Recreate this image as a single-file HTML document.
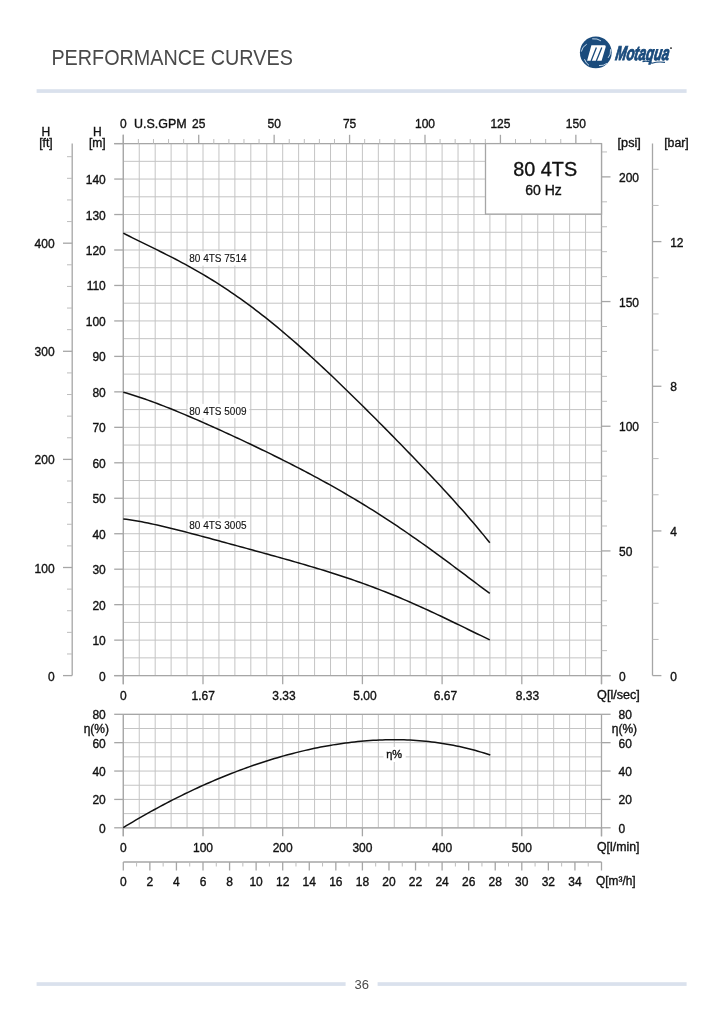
<!DOCTYPE html>
<html><head><meta charset="utf-8"><title>Performance Curves</title>
<style>
html,body{margin:0;padding:0;background:#fff;}
body{width:724px;height:1024px;overflow:hidden;}
svg{display:block;font-family:'Liberation Sans', Arial, Helvetica, sans-serif;}
.t{stroke:#111;stroke-width:0.35px;}
.lt{stroke:#111;stroke-width:0.12px;}
</style></head>
<body>
<svg width="724" height="1024" viewBox="0 0 724 1024">
<rect width="724" height="1024" fill="#fff"/>

<rect x="36.6" y="89.2" width="650" height="3.7" fill="#dae1ed"/>
<text x="51.4" y="64.8" font-size="22.5" fill="#4a4a4a" textLength="241.5" lengthAdjust="spacingAndGlyphs">PERFORMANCE CURVES</text>
<rect x="36.6" y="982.2" width="309" height="3.7" fill="#dae1ed"/>
<rect x="377.6" y="982.2" width="309" height="3.7" fill="#dae1ed"/>
<text x="361.7" y="988.5" font-size="13" fill="#4a4a4a" text-anchor="middle">36</text>


<g>
  <circle cx="595.8" cy="52.4" r="15.9" fill="#1a4b7c"/>
  <g fill="none" stroke="#d6e6f5" stroke-width="0.9" stroke-linecap="round">
    <path d="M581.4,51.2 Q582.2,46.6 586.4,44.4"/>
    <path d="M592.6,38.8 Q597.4,38.2 600.6,40.6"/>
    <path d="M610.6,49.6 Q611.0,54.8 608.4,57.6"/>
    <path d="M599.4,65.6 Q603.6,66.0 606.6,63.6"/>
    <path d="M584.6,59.6 Q585.8,63.2 588.6,65.0"/>
  </g>
  <path d="M591.4,45.2 L604.6,45.2 Q606.2,45.4 605.7,47 L601.6,60.8 L587.1,60.8 Z" fill="#fff"/>
  <path d="M596.4,47.4 L591.1,60.9 M601.8,47.4 L596.3,60.9" stroke="#1a4b7c" stroke-width="1.3" fill="none"/>
  <text x="614.8" y="60.1" font-size="20" font-weight="bold" font-style="italic" fill="#1a4b7c" stroke="#1a4b7c" stroke-width="1.0" textLength="53.6" lengthAdjust="spacingAndGlyphs" transform="translate(0 60.1) skewX(-9) translate(0 -60.1)">Motaqua</text>
  <path d="M642.5,61.6 Q648,60.2 652,63.2 Q658,61.4 665,62.4" fill="none" stroke="#1a4b7c" stroke-width="1.1"/>
  <circle cx="671" cy="48.1" r="0.9" fill="#111"/>
</g>

<line x1="123.30" y1="143.60" x2="123.30" y2="675.60" stroke="#c4c4c4" stroke-width="1.0"/>
<line x1="139.24" y1="143.60" x2="139.24" y2="675.60" stroke="#c4c4c4" stroke-width="1.0"/>
<line x1="155.18" y1="143.60" x2="155.18" y2="675.60" stroke="#c4c4c4" stroke-width="1.0"/>
<line x1="171.12" y1="143.60" x2="171.12" y2="675.60" stroke="#c4c4c4" stroke-width="1.0"/>
<line x1="187.06" y1="143.60" x2="187.06" y2="675.60" stroke="#c4c4c4" stroke-width="1.0"/>
<line x1="203.00" y1="143.60" x2="203.00" y2="675.60" stroke="#c4c4c4" stroke-width="1.0"/>
<line x1="218.94" y1="143.60" x2="218.94" y2="675.60" stroke="#c4c4c4" stroke-width="1.0"/>
<line x1="234.88" y1="143.60" x2="234.88" y2="675.60" stroke="#c4c4c4" stroke-width="1.0"/>
<line x1="250.82" y1="143.60" x2="250.82" y2="675.60" stroke="#c4c4c4" stroke-width="1.0"/>
<line x1="266.76" y1="143.60" x2="266.76" y2="675.60" stroke="#c4c4c4" stroke-width="1.0"/>
<line x1="282.70" y1="143.60" x2="282.70" y2="675.60" stroke="#c4c4c4" stroke-width="1.0"/>
<line x1="298.64" y1="143.60" x2="298.64" y2="675.60" stroke="#c4c4c4" stroke-width="1.0"/>
<line x1="314.58" y1="143.60" x2="314.58" y2="675.60" stroke="#c4c4c4" stroke-width="1.0"/>
<line x1="330.52" y1="143.60" x2="330.52" y2="675.60" stroke="#c4c4c4" stroke-width="1.0"/>
<line x1="346.46" y1="143.60" x2="346.46" y2="675.60" stroke="#c4c4c4" stroke-width="1.0"/>
<line x1="362.40" y1="143.60" x2="362.40" y2="675.60" stroke="#c4c4c4" stroke-width="1.0"/>
<line x1="378.34" y1="143.60" x2="378.34" y2="675.60" stroke="#c4c4c4" stroke-width="1.0"/>
<line x1="394.28" y1="143.60" x2="394.28" y2="675.60" stroke="#c4c4c4" stroke-width="1.0"/>
<line x1="410.22" y1="143.60" x2="410.22" y2="675.60" stroke="#c4c4c4" stroke-width="1.0"/>
<line x1="426.16" y1="143.60" x2="426.16" y2="675.60" stroke="#c4c4c4" stroke-width="1.0"/>
<line x1="442.10" y1="143.60" x2="442.10" y2="675.60" stroke="#c4c4c4" stroke-width="1.0"/>
<line x1="458.04" y1="143.60" x2="458.04" y2="675.60" stroke="#c4c4c4" stroke-width="1.0"/>
<line x1="473.98" y1="143.60" x2="473.98" y2="675.60" stroke="#c4c4c4" stroke-width="1.0"/>
<line x1="489.92" y1="143.60" x2="489.92" y2="675.60" stroke="#c4c4c4" stroke-width="1.0"/>
<line x1="505.86" y1="143.60" x2="505.86" y2="675.60" stroke="#c4c4c4" stroke-width="1.0"/>
<line x1="521.80" y1="143.60" x2="521.80" y2="675.60" stroke="#c4c4c4" stroke-width="1.0"/>
<line x1="537.74" y1="143.60" x2="537.74" y2="675.60" stroke="#c4c4c4" stroke-width="1.0"/>
<line x1="553.68" y1="143.60" x2="553.68" y2="675.60" stroke="#c4c4c4" stroke-width="1.0"/>
<line x1="569.62" y1="143.60" x2="569.62" y2="675.60" stroke="#c4c4c4" stroke-width="1.0"/>
<line x1="585.56" y1="143.60" x2="585.56" y2="675.60" stroke="#c4c4c4" stroke-width="1.0"/>
<line x1="601.50" y1="143.60" x2="601.50" y2="675.60" stroke="#c4c4c4" stroke-width="1.0"/>
<line x1="123.30" y1="675.60" x2="601.50" y2="675.60" stroke="#c4c4c4" stroke-width="1.0"/>
<line x1="123.30" y1="657.87" x2="601.50" y2="657.87" stroke="#c4c4c4" stroke-width="1.0"/>
<line x1="123.30" y1="640.13" x2="601.50" y2="640.13" stroke="#c4c4c4" stroke-width="1.0"/>
<line x1="123.30" y1="622.40" x2="601.50" y2="622.40" stroke="#c4c4c4" stroke-width="1.0"/>
<line x1="123.30" y1="604.67" x2="601.50" y2="604.67" stroke="#c4c4c4" stroke-width="1.0"/>
<line x1="123.30" y1="586.93" x2="601.50" y2="586.93" stroke="#c4c4c4" stroke-width="1.0"/>
<line x1="123.30" y1="569.20" x2="601.50" y2="569.20" stroke="#c4c4c4" stroke-width="1.0"/>
<line x1="123.30" y1="551.47" x2="601.50" y2="551.47" stroke="#c4c4c4" stroke-width="1.0"/>
<line x1="123.30" y1="533.73" x2="601.50" y2="533.73" stroke="#c4c4c4" stroke-width="1.0"/>
<line x1="123.30" y1="516.00" x2="601.50" y2="516.00" stroke="#c4c4c4" stroke-width="1.0"/>
<line x1="123.30" y1="498.26" x2="601.50" y2="498.26" stroke="#c4c4c4" stroke-width="1.0"/>
<line x1="123.30" y1="480.53" x2="601.50" y2="480.53" stroke="#c4c4c4" stroke-width="1.0"/>
<line x1="123.30" y1="462.80" x2="601.50" y2="462.80" stroke="#c4c4c4" stroke-width="1.0"/>
<line x1="123.30" y1="445.06" x2="601.50" y2="445.06" stroke="#c4c4c4" stroke-width="1.0"/>
<line x1="123.30" y1="427.33" x2="601.50" y2="427.33" stroke="#c4c4c4" stroke-width="1.0"/>
<line x1="123.30" y1="409.60" x2="601.50" y2="409.60" stroke="#c4c4c4" stroke-width="1.0"/>
<line x1="123.30" y1="391.86" x2="601.50" y2="391.86" stroke="#c4c4c4" stroke-width="1.0"/>
<line x1="123.30" y1="374.13" x2="601.50" y2="374.13" stroke="#c4c4c4" stroke-width="1.0"/>
<line x1="123.30" y1="356.40" x2="601.50" y2="356.40" stroke="#c4c4c4" stroke-width="1.0"/>
<line x1="123.30" y1="338.66" x2="601.50" y2="338.66" stroke="#c4c4c4" stroke-width="1.0"/>
<line x1="123.30" y1="320.93" x2="601.50" y2="320.93" stroke="#c4c4c4" stroke-width="1.0"/>
<line x1="123.30" y1="303.20" x2="601.50" y2="303.20" stroke="#c4c4c4" stroke-width="1.0"/>
<line x1="123.30" y1="285.46" x2="601.50" y2="285.46" stroke="#c4c4c4" stroke-width="1.0"/>
<line x1="123.30" y1="267.73" x2="601.50" y2="267.73" stroke="#c4c4c4" stroke-width="1.0"/>
<line x1="123.30" y1="250.00" x2="601.50" y2="250.00" stroke="#c4c4c4" stroke-width="1.0"/>
<line x1="123.30" y1="232.26" x2="601.50" y2="232.26" stroke="#c4c4c4" stroke-width="1.0"/>
<line x1="123.30" y1="214.53" x2="601.50" y2="214.53" stroke="#c4c4c4" stroke-width="1.0"/>
<line x1="123.30" y1="196.80" x2="601.50" y2="196.80" stroke="#c4c4c4" stroke-width="1.0"/>
<line x1="123.30" y1="179.06" x2="601.50" y2="179.06" stroke="#c4c4c4" stroke-width="1.0"/>
<line x1="123.30" y1="161.33" x2="601.50" y2="161.33" stroke="#c4c4c4" stroke-width="1.0"/>
<line x1="123.30" y1="143.60" x2="601.50" y2="143.60" stroke="#c4c4c4" stroke-width="1.0"/>
<line x1="123.30" y1="134.80" x2="123.30" y2="684.20" stroke="#a6a6a6" stroke-width="1.3"/>
<line x1="601.50" y1="143.60" x2="601.50" y2="684.20" stroke="#a6a6a6" stroke-width="1.3"/>
<line x1="114.20" y1="143.60" x2="601.50" y2="143.60" stroke="#a6a6a6" stroke-width="1.3"/>
<line x1="114.20" y1="675.60" x2="610.60" y2="675.60" stroke="#a6a6a6" stroke-width="1.3"/>
<line x1="114.20" y1="675.60" x2="123.30" y2="675.60" stroke="#a6a6a6" stroke-width="1.3"/>
<text class="t" x="105.80" y="680.60" font-size="12" text-anchor="end" fill="#111111" >0</text>
<line x1="114.20" y1="640.13" x2="123.30" y2="640.13" stroke="#a6a6a6" stroke-width="1.3"/>
<text class="t" x="105.80" y="645.13" font-size="12" text-anchor="end" fill="#111111" >10</text>
<line x1="114.20" y1="604.67" x2="123.30" y2="604.67" stroke="#a6a6a6" stroke-width="1.3"/>
<text class="t" x="105.80" y="609.67" font-size="12" text-anchor="end" fill="#111111" >20</text>
<line x1="114.20" y1="569.20" x2="123.30" y2="569.20" stroke="#a6a6a6" stroke-width="1.3"/>
<text class="t" x="105.80" y="574.20" font-size="12" text-anchor="end" fill="#111111" >30</text>
<line x1="114.20" y1="533.73" x2="123.30" y2="533.73" stroke="#a6a6a6" stroke-width="1.3"/>
<text class="t" x="105.80" y="538.73" font-size="12" text-anchor="end" fill="#111111" >40</text>
<line x1="114.20" y1="498.26" x2="123.30" y2="498.26" stroke="#a6a6a6" stroke-width="1.3"/>
<text class="t" x="105.80" y="503.26" font-size="12" text-anchor="end" fill="#111111" >50</text>
<line x1="114.20" y1="462.80" x2="123.30" y2="462.80" stroke="#a6a6a6" stroke-width="1.3"/>
<text class="t" x="105.80" y="467.80" font-size="12" text-anchor="end" fill="#111111" >60</text>
<line x1="114.20" y1="427.33" x2="123.30" y2="427.33" stroke="#a6a6a6" stroke-width="1.3"/>
<text class="t" x="105.80" y="432.33" font-size="12" text-anchor="end" fill="#111111" >70</text>
<line x1="114.20" y1="391.86" x2="123.30" y2="391.86" stroke="#a6a6a6" stroke-width="1.3"/>
<text class="t" x="105.80" y="396.86" font-size="12" text-anchor="end" fill="#111111" >80</text>
<line x1="114.20" y1="356.40" x2="123.30" y2="356.40" stroke="#a6a6a6" stroke-width="1.3"/>
<text class="t" x="105.80" y="361.40" font-size="12" text-anchor="end" fill="#111111" >90</text>
<line x1="114.20" y1="320.93" x2="123.30" y2="320.93" stroke="#a6a6a6" stroke-width="1.3"/>
<text class="t" x="105.80" y="325.93" font-size="12" text-anchor="end" fill="#111111" >100</text>
<line x1="114.20" y1="285.46" x2="123.30" y2="285.46" stroke="#a6a6a6" stroke-width="1.3"/>
<text class="t" x="105.80" y="290.46" font-size="12" text-anchor="end" fill="#111111" >110</text>
<line x1="114.20" y1="250.00" x2="123.30" y2="250.00" stroke="#a6a6a6" stroke-width="1.3"/>
<text class="t" x="105.80" y="255.00" font-size="12" text-anchor="end" fill="#111111" >120</text>
<line x1="114.20" y1="214.53" x2="123.30" y2="214.53" stroke="#a6a6a6" stroke-width="1.3"/>
<text class="t" x="105.80" y="219.53" font-size="12" text-anchor="end" fill="#111111" >130</text>
<line x1="114.20" y1="179.06" x2="123.30" y2="179.06" stroke="#a6a6a6" stroke-width="1.3"/>
<text class="t" x="105.80" y="184.06" font-size="12" text-anchor="end" fill="#111111" >140</text>
<line x1="114.20" y1="143.60" x2="123.30" y2="143.60" stroke="#a6a6a6" stroke-width="1.3"/>
<line x1="123.30" y1="675.60" x2="123.30" y2="684.20" stroke="#a6a6a6" stroke-width="1.3"/>
<text class="t" x="123.40" y="700.00" font-size="12" text-anchor="middle" fill="#111111" >0</text>
<line x1="203.00" y1="675.60" x2="203.00" y2="684.20" stroke="#a6a6a6" stroke-width="1.3"/>
<text class="t" x="203.30" y="700.00" font-size="12" text-anchor="middle" fill="#111111" >1.67</text>
<line x1="282.70" y1="675.60" x2="282.70" y2="684.20" stroke="#a6a6a6" stroke-width="1.3"/>
<text class="t" x="284.00" y="700.00" font-size="12" text-anchor="middle" fill="#111111" >3.33</text>
<line x1="362.40" y1="675.60" x2="362.40" y2="684.20" stroke="#a6a6a6" stroke-width="1.3"/>
<text class="t" x="364.90" y="700.00" font-size="12" text-anchor="middle" fill="#111111" >5.00</text>
<line x1="442.10" y1="675.60" x2="442.10" y2="684.20" stroke="#a6a6a6" stroke-width="1.3"/>
<text class="t" x="445.50" y="700.00" font-size="12" text-anchor="middle" fill="#111111" >6.67</text>
<line x1="521.80" y1="675.60" x2="521.80" y2="684.20" stroke="#a6a6a6" stroke-width="1.3"/>
<text class="t" x="527.40" y="700.00" font-size="12" text-anchor="middle" fill="#111111" >8.33</text>
<line x1="601.50" y1="675.60" x2="601.50" y2="684.20" stroke="#a6a6a6" stroke-width="1.3"/>
<text class="t" x="597.10" y="698.50" font-size="12" text-anchor="start" fill="#111111" textLength="42.8" lengthAdjust="spacingAndGlyphs">Q[l/sec]</text>
<line x1="123.30" y1="134.80" x2="123.30" y2="143.60" stroke="#a6a6a6" stroke-width="1.3"/>
<line x1="138.38" y1="139.00" x2="138.38" y2="143.60" stroke="#bdbdbd" stroke-width="1.0"/>
<line x1="153.47" y1="139.00" x2="153.47" y2="143.60" stroke="#bdbdbd" stroke-width="1.0"/>
<line x1="168.55" y1="139.00" x2="168.55" y2="143.60" stroke="#bdbdbd" stroke-width="1.0"/>
<line x1="183.64" y1="139.00" x2="183.64" y2="143.60" stroke="#bdbdbd" stroke-width="1.0"/>
<line x1="198.72" y1="134.80" x2="198.72" y2="143.60" stroke="#a6a6a6" stroke-width="1.3"/>
<text class="t" x="198.72" y="128.30" font-size="12" text-anchor="middle" fill="#111111" >25</text>
<line x1="213.81" y1="139.00" x2="213.81" y2="143.60" stroke="#bdbdbd" stroke-width="1.0"/>
<line x1="228.89" y1="139.00" x2="228.89" y2="143.60" stroke="#bdbdbd" stroke-width="1.0"/>
<line x1="243.98" y1="139.00" x2="243.98" y2="143.60" stroke="#bdbdbd" stroke-width="1.0"/>
<line x1="259.06" y1="139.00" x2="259.06" y2="143.60" stroke="#bdbdbd" stroke-width="1.0"/>
<line x1="274.15" y1="134.80" x2="274.15" y2="143.60" stroke="#a6a6a6" stroke-width="1.3"/>
<text class="t" x="274.15" y="128.30" font-size="12" text-anchor="middle" fill="#111111" >50</text>
<line x1="289.23" y1="139.00" x2="289.23" y2="143.60" stroke="#bdbdbd" stroke-width="1.0"/>
<line x1="304.32" y1="139.00" x2="304.32" y2="143.60" stroke="#bdbdbd" stroke-width="1.0"/>
<line x1="319.40" y1="139.00" x2="319.40" y2="143.60" stroke="#bdbdbd" stroke-width="1.0"/>
<line x1="334.49" y1="139.00" x2="334.49" y2="143.60" stroke="#bdbdbd" stroke-width="1.0"/>
<line x1="349.57" y1="134.80" x2="349.57" y2="143.60" stroke="#a6a6a6" stroke-width="1.3"/>
<text class="t" x="349.57" y="128.30" font-size="12" text-anchor="middle" fill="#111111" >75</text>
<line x1="364.66" y1="139.00" x2="364.66" y2="143.60" stroke="#bdbdbd" stroke-width="1.0"/>
<line x1="379.74" y1="139.00" x2="379.74" y2="143.60" stroke="#bdbdbd" stroke-width="1.0"/>
<line x1="394.83" y1="139.00" x2="394.83" y2="143.60" stroke="#bdbdbd" stroke-width="1.0"/>
<line x1="409.91" y1="139.00" x2="409.91" y2="143.60" stroke="#bdbdbd" stroke-width="1.0"/>
<line x1="425.00" y1="134.80" x2="425.00" y2="143.60" stroke="#a6a6a6" stroke-width="1.3"/>
<text class="t" x="425.00" y="128.30" font-size="12" text-anchor="middle" fill="#111111" >100</text>
<line x1="440.08" y1="139.00" x2="440.08" y2="143.60" stroke="#bdbdbd" stroke-width="1.0"/>
<line x1="455.17" y1="139.00" x2="455.17" y2="143.60" stroke="#bdbdbd" stroke-width="1.0"/>
<line x1="470.25" y1="139.00" x2="470.25" y2="143.60" stroke="#bdbdbd" stroke-width="1.0"/>
<line x1="485.34" y1="139.00" x2="485.34" y2="143.60" stroke="#bdbdbd" stroke-width="1.0"/>
<line x1="500.42" y1="134.80" x2="500.42" y2="143.60" stroke="#a6a6a6" stroke-width="1.3"/>
<text class="t" x="500.42" y="128.30" font-size="12" text-anchor="middle" fill="#111111" >125</text>
<line x1="515.51" y1="139.00" x2="515.51" y2="143.60" stroke="#bdbdbd" stroke-width="1.0"/>
<line x1="530.59" y1="139.00" x2="530.59" y2="143.60" stroke="#bdbdbd" stroke-width="1.0"/>
<line x1="545.68" y1="139.00" x2="545.68" y2="143.60" stroke="#bdbdbd" stroke-width="1.0"/>
<line x1="560.76" y1="139.00" x2="560.76" y2="143.60" stroke="#bdbdbd" stroke-width="1.0"/>
<line x1="575.85" y1="134.80" x2="575.85" y2="143.60" stroke="#a6a6a6" stroke-width="1.3"/>
<text class="t" x="575.85" y="128.30" font-size="12" text-anchor="middle" fill="#111111" >150</text>
<line x1="590.93" y1="139.00" x2="590.93" y2="143.60" stroke="#bdbdbd" stroke-width="1.0"/>
<text class="t" x="123.30" y="128.30" font-size="12" text-anchor="middle" fill="#111111" >0</text>
<text class="t" x="134.00" y="128.30" font-size="12" text-anchor="start" fill="#111111" textLength="52.6" lengthAdjust="spacingAndGlyphs">U.S.GPM</text>
<text class="t" x="97.30" y="136.00" font-size="12" text-anchor="middle" fill="#111111" >H</text>
<text class="t" x="97.30" y="147.00" font-size="12" text-anchor="middle" fill="#111111" >[m]</text>
<text class="t" x="45.90" y="136.00" font-size="12" text-anchor="middle" fill="#111111" >H</text>
<text class="t" x="45.90" y="147.00" font-size="12" text-anchor="middle" fill="#111111" >[ft]</text>
<line x1="72.20" y1="143.60" x2="72.20" y2="675.60" stroke="#a6a6a6" stroke-width="1.3"/>
<line x1="63.00" y1="675.60" x2="72.20" y2="675.60" stroke="#a6a6a6" stroke-width="1.3"/>
<text class="t" x="54.60" y="680.60" font-size="12" text-anchor="end" fill="#111111" >0</text>
<line x1="67.00" y1="653.98" x2="72.20" y2="653.98" stroke="#bdbdbd" stroke-width="1.0"/>
<line x1="67.00" y1="632.36" x2="72.20" y2="632.36" stroke="#bdbdbd" stroke-width="1.0"/>
<line x1="67.00" y1="610.74" x2="72.20" y2="610.74" stroke="#bdbdbd" stroke-width="1.0"/>
<line x1="67.00" y1="589.12" x2="72.20" y2="589.12" stroke="#bdbdbd" stroke-width="1.0"/>
<line x1="63.00" y1="567.50" x2="72.20" y2="567.50" stroke="#a6a6a6" stroke-width="1.3"/>
<text class="t" x="54.60" y="572.50" font-size="12" text-anchor="end" fill="#111111" >100</text>
<line x1="67.00" y1="545.88" x2="72.20" y2="545.88" stroke="#bdbdbd" stroke-width="1.0"/>
<line x1="67.00" y1="524.26" x2="72.20" y2="524.26" stroke="#bdbdbd" stroke-width="1.0"/>
<line x1="67.00" y1="502.63" x2="72.20" y2="502.63" stroke="#bdbdbd" stroke-width="1.0"/>
<line x1="67.00" y1="481.01" x2="72.20" y2="481.01" stroke="#bdbdbd" stroke-width="1.0"/>
<line x1="63.00" y1="459.39" x2="72.20" y2="459.39" stroke="#a6a6a6" stroke-width="1.3"/>
<text class="t" x="54.60" y="464.39" font-size="12" text-anchor="end" fill="#111111" >200</text>
<line x1="67.00" y1="437.77" x2="72.20" y2="437.77" stroke="#bdbdbd" stroke-width="1.0"/>
<line x1="67.00" y1="416.15" x2="72.20" y2="416.15" stroke="#bdbdbd" stroke-width="1.0"/>
<line x1="67.00" y1="394.53" x2="72.20" y2="394.53" stroke="#bdbdbd" stroke-width="1.0"/>
<line x1="67.00" y1="372.91" x2="72.20" y2="372.91" stroke="#bdbdbd" stroke-width="1.0"/>
<line x1="63.00" y1="351.29" x2="72.20" y2="351.29" stroke="#a6a6a6" stroke-width="1.3"/>
<text class="t" x="54.60" y="356.29" font-size="12" text-anchor="end" fill="#111111" >300</text>
<line x1="67.00" y1="329.67" x2="72.20" y2="329.67" stroke="#bdbdbd" stroke-width="1.0"/>
<line x1="67.00" y1="308.05" x2="72.20" y2="308.05" stroke="#bdbdbd" stroke-width="1.0"/>
<line x1="67.00" y1="286.43" x2="72.20" y2="286.43" stroke="#bdbdbd" stroke-width="1.0"/>
<line x1="67.00" y1="264.81" x2="72.20" y2="264.81" stroke="#bdbdbd" stroke-width="1.0"/>
<line x1="63.00" y1="243.19" x2="72.20" y2="243.19" stroke="#a6a6a6" stroke-width="1.3"/>
<text class="t" x="54.60" y="248.19" font-size="12" text-anchor="end" fill="#111111" >400</text>
<line x1="67.00" y1="221.57" x2="72.20" y2="221.57" stroke="#bdbdbd" stroke-width="1.0"/>
<line x1="67.00" y1="199.94" x2="72.20" y2="199.94" stroke="#bdbdbd" stroke-width="1.0"/>
<line x1="67.00" y1="178.32" x2="72.20" y2="178.32" stroke="#bdbdbd" stroke-width="1.0"/>
<line x1="67.00" y1="156.70" x2="72.20" y2="156.70" stroke="#bdbdbd" stroke-width="1.0"/>
<text class="t" x="617.60" y="146.80" font-size="12" text-anchor="start" fill="#111111" textLength="23.2" lengthAdjust="spacingAndGlyphs">[psi]</text>
<line x1="601.50" y1="675.60" x2="610.50" y2="675.60" stroke="#a6a6a6" stroke-width="1.3"/>
<text class="t" x="619.00" y="680.60" font-size="12" text-anchor="start" fill="#111111" >0</text>
<line x1="601.50" y1="650.66" x2="607.00" y2="650.66" stroke="#bdbdbd" stroke-width="1.0"/>
<line x1="601.50" y1="625.73" x2="607.00" y2="625.73" stroke="#bdbdbd" stroke-width="1.0"/>
<line x1="601.50" y1="600.79" x2="607.00" y2="600.79" stroke="#bdbdbd" stroke-width="1.0"/>
<line x1="601.50" y1="575.86" x2="607.00" y2="575.86" stroke="#bdbdbd" stroke-width="1.0"/>
<line x1="601.50" y1="550.92" x2="610.50" y2="550.92" stroke="#a6a6a6" stroke-width="1.3"/>
<text class="t" x="619.00" y="555.92" font-size="12" text-anchor="start" fill="#111111" >50</text>
<line x1="601.50" y1="525.99" x2="607.00" y2="525.99" stroke="#bdbdbd" stroke-width="1.0"/>
<line x1="601.50" y1="501.05" x2="607.00" y2="501.05" stroke="#bdbdbd" stroke-width="1.0"/>
<line x1="601.50" y1="476.11" x2="607.00" y2="476.11" stroke="#bdbdbd" stroke-width="1.0"/>
<line x1="601.50" y1="451.18" x2="607.00" y2="451.18" stroke="#bdbdbd" stroke-width="1.0"/>
<line x1="601.50" y1="426.24" x2="610.50" y2="426.24" stroke="#a6a6a6" stroke-width="1.3"/>
<text class="t" x="619.00" y="431.24" font-size="12" text-anchor="start" fill="#111111" >100</text>
<line x1="601.50" y1="401.31" x2="607.00" y2="401.31" stroke="#bdbdbd" stroke-width="1.0"/>
<line x1="601.50" y1="376.37" x2="607.00" y2="376.37" stroke="#bdbdbd" stroke-width="1.0"/>
<line x1="601.50" y1="351.43" x2="607.00" y2="351.43" stroke="#bdbdbd" stroke-width="1.0"/>
<line x1="601.50" y1="326.50" x2="607.00" y2="326.50" stroke="#bdbdbd" stroke-width="1.0"/>
<line x1="601.50" y1="301.56" x2="610.50" y2="301.56" stroke="#a6a6a6" stroke-width="1.3"/>
<text class="t" x="619.00" y="306.56" font-size="12" text-anchor="start" fill="#111111" >150</text>
<line x1="601.50" y1="276.63" x2="607.00" y2="276.63" stroke="#bdbdbd" stroke-width="1.0"/>
<line x1="601.50" y1="251.69" x2="607.00" y2="251.69" stroke="#bdbdbd" stroke-width="1.0"/>
<line x1="601.50" y1="226.76" x2="607.00" y2="226.76" stroke="#bdbdbd" stroke-width="1.0"/>
<line x1="601.50" y1="201.82" x2="607.00" y2="201.82" stroke="#bdbdbd" stroke-width="1.0"/>
<line x1="601.50" y1="176.88" x2="610.50" y2="176.88" stroke="#a6a6a6" stroke-width="1.3"/>
<text class="t" x="619.00" y="181.88" font-size="12" text-anchor="start" fill="#111111" >200</text>
<line x1="601.50" y1="151.95" x2="607.00" y2="151.95" stroke="#bdbdbd" stroke-width="1.0"/>
<line x1="652.50" y1="143.60" x2="652.50" y2="675.60" stroke="#a6a6a6" stroke-width="1.3"/>
<text class="t" x="664.20" y="146.80" font-size="12" text-anchor="start" fill="#111111" textLength="24.6" lengthAdjust="spacingAndGlyphs">[bar]</text>
<line x1="652.50" y1="675.60" x2="661.40" y2="675.60" stroke="#a6a6a6" stroke-width="1.3"/>
<text class="t" x="670.20" y="680.60" font-size="12" text-anchor="start" fill="#111111" >0</text>
<line x1="652.50" y1="639.43" x2="658.60" y2="639.43" stroke="#bdbdbd" stroke-width="1.0"/>
<line x1="652.50" y1="603.27" x2="658.60" y2="603.27" stroke="#bdbdbd" stroke-width="1.0"/>
<line x1="652.50" y1="567.10" x2="658.60" y2="567.10" stroke="#bdbdbd" stroke-width="1.0"/>
<line x1="652.50" y1="530.93" x2="661.40" y2="530.93" stroke="#a6a6a6" stroke-width="1.3"/>
<text class="t" x="670.20" y="535.93" font-size="12" text-anchor="start" fill="#111111" >4</text>
<line x1="652.50" y1="494.77" x2="658.60" y2="494.77" stroke="#bdbdbd" stroke-width="1.0"/>
<line x1="652.50" y1="458.60" x2="658.60" y2="458.60" stroke="#bdbdbd" stroke-width="1.0"/>
<line x1="652.50" y1="422.44" x2="658.60" y2="422.44" stroke="#bdbdbd" stroke-width="1.0"/>
<line x1="652.50" y1="386.27" x2="661.40" y2="386.27" stroke="#a6a6a6" stroke-width="1.3"/>
<text class="t" x="670.20" y="391.27" font-size="12" text-anchor="start" fill="#111111" >8</text>
<line x1="652.50" y1="350.10" x2="658.60" y2="350.10" stroke="#bdbdbd" stroke-width="1.0"/>
<line x1="652.50" y1="313.94" x2="658.60" y2="313.94" stroke="#bdbdbd" stroke-width="1.0"/>
<line x1="652.50" y1="277.77" x2="658.60" y2="277.77" stroke="#bdbdbd" stroke-width="1.0"/>
<line x1="652.50" y1="241.60" x2="661.40" y2="241.60" stroke="#a6a6a6" stroke-width="1.3"/>
<text class="t" x="670.20" y="246.60" font-size="12" text-anchor="start" fill="#111111" >12</text>
<line x1="652.50" y1="205.44" x2="658.60" y2="205.44" stroke="#bdbdbd" stroke-width="1.0"/>
<line x1="652.50" y1="169.27" x2="658.60" y2="169.27" stroke="#bdbdbd" stroke-width="1.0"/>
<rect x="485.5" y="143.60" width="116.00" height="70.50" fill="#fff" stroke="#a6a6a6" stroke-width="1.3"/>
<text class="t" x="513.30" y="176.10" font-size="19.8" text-anchor="start" fill="#111111" textLength="63.8" lengthAdjust="spacingAndGlyphs">80 4TS</text>
<text class="t" x="543.60" y="195.00" font-size="14" text-anchor="middle" fill="#111111" >60 Hz</text>
<rect x="187.70" y="251.40" width="61.6" height="14.2" fill="#fff"/>
<rect x="187.70" y="403.90" width="61.6" height="14.2" fill="#fff"/>
<rect x="187.70" y="518.50" width="61.6" height="14.2" fill="#fff"/>
<path d="M123.30,233.14 L126.38,234.71 L129.46,236.27 L132.54,237.82 L135.62,239.35 L138.70,240.87 L141.78,242.38 L144.86,243.89 L147.94,245.40 L151.02,246.91 L154.10,248.43 L157.18,249.94 L160.26,251.47 L163.34,253.01 L166.42,254.56 L169.50,256.12 L172.58,257.70 L175.66,259.29 L178.74,260.91 L181.82,262.54 L184.90,264.20 L187.98,265.88 L191.06,267.58 L194.14,269.31 L197.22,271.06 L200.30,272.84 L203.38,274.65 L206.46,276.49 L209.54,278.35 L212.62,280.25 L215.69,282.17 L218.77,284.13 L221.85,286.12 L224.93,288.13 L228.01,290.18 L231.09,292.26 L234.17,294.38 L237.25,296.52 L240.33,298.70 L243.41,300.90 L246.49,303.14 L249.57,305.41 L252.65,307.71 L255.73,310.04 L258.81,312.40 L261.89,314.79 L264.97,317.21 L268.05,319.67 L271.13,322.14 L274.21,324.65 L277.29,327.19 L280.37,329.75 L283.45,332.34 L286.53,334.95 L289.61,337.59 L292.69,340.26 L295.77,342.94 L298.85,345.66 L301.93,348.39 L305.01,351.15 L308.09,353.93 L311.17,356.72 L314.25,359.54 L317.33,362.38 L320.41,365.24 L323.49,368.11 L326.57,371.00 L329.65,373.91 L332.73,376.83 L335.81,379.77 L338.89,382.73 L341.97,385.69 L345.05,388.67 L348.13,391.67 L351.21,394.67 L354.29,397.69 L357.37,400.72 L360.45,403.75 L363.53,406.80 L366.61,409.86 L369.69,412.93 L372.77,416.01 L375.85,419.09 L378.93,422.19 L382.01,425.29 L385.09,428.40 L388.17,431.53 L391.25,434.65 L394.33,437.79 L397.41,440.94 L400.48,444.09 L403.56,447.25 L406.64,450.42 L409.72,453.61 L412.80,456.80 L415.88,460.00 L418.96,463.21 L422.04,466.44 L425.12,469.67 L428.20,472.92 L431.28,476.19 L434.36,479.46 L437.44,482.76 L440.52,486.07 L443.60,489.40 L446.68,492.75 L449.76,496.12 L452.84,499.52 L455.92,502.94 L459.00,506.38 L462.08,509.86 L465.16,513.36 L468.24,516.90 L471.32,520.47 L474.40,524.07 L477.48,527.72 L480.56,531.41 L483.64,535.14 L486.72,538.92 L489.80,542.74" fill="none" stroke="#111" stroke-width="1.5"/>
<path d="M123.30,392.21 L126.38,393.09 L129.46,394.01 L132.54,394.96 L135.62,395.94 L138.70,396.95 L141.78,397.99 L144.86,399.05 L147.94,400.14 L151.02,401.25 L154.10,402.38 L157.18,403.53 L160.26,404.70 L163.34,405.89 L166.42,407.10 L169.50,408.32 L172.58,409.56 L175.66,410.81 L178.74,412.08 L181.82,413.36 L184.90,414.65 L187.98,415.96 L191.06,417.27 L194.14,418.59 L197.22,419.93 L200.30,421.27 L203.38,422.63 L206.46,423.99 L209.54,425.35 L212.62,426.73 L215.69,428.12 L218.77,429.51 L221.85,430.91 L224.93,432.31 L228.01,433.72 L231.09,435.14 L234.17,436.57 L237.25,438.00 L240.33,439.44 L243.41,440.89 L246.49,442.34 L249.57,443.80 L252.65,445.26 L255.73,446.73 L258.81,448.21 L261.89,449.70 L264.97,451.19 L268.05,452.69 L271.13,454.20 L274.21,455.72 L277.29,457.25 L280.37,458.78 L283.45,460.32 L286.53,461.87 L289.61,463.43 L292.69,465.00 L295.77,466.58 L298.85,468.18 L301.93,469.78 L305.01,471.39 L308.09,473.01 L311.17,474.65 L314.25,476.29 L317.33,477.95 L320.41,479.62 L323.49,481.31 L326.57,483.00 L329.65,484.71 L332.73,486.44 L335.81,488.18 L338.89,489.93 L341.97,491.70 L345.05,493.48 L348.13,495.28 L351.21,497.09 L354.29,498.92 L357.37,500.76 L360.45,502.62 L363.53,504.50 L366.61,506.39 L369.69,508.30 L372.77,510.22 L375.85,512.16 L378.93,514.12 L382.01,516.10 L385.09,518.09 L388.17,520.10 L391.25,522.12 L394.33,524.17 L397.41,526.22 L400.48,528.30 L403.56,530.39 L406.64,532.50 L409.72,534.62 L412.80,536.76 L415.88,538.91 L418.96,541.08 L422.04,543.26 L425.12,545.45 L428.20,547.66 L431.28,549.88 L434.36,552.12 L437.44,554.36 L440.52,556.62 L443.60,558.89 L446.68,561.16 L449.76,563.45 L452.84,565.74 L455.92,568.04 L459.00,570.34 L462.08,572.65 L465.16,574.97 L468.24,577.28 L471.32,579.60 L474.40,581.92 L477.48,584.23 L480.56,586.54 L483.64,588.85 L486.72,591.15 L489.80,593.45" fill="none" stroke="#111" stroke-width="1.5"/>
<path d="M123.30,518.90 L126.38,519.31 L129.46,519.76 L132.54,520.24 L135.62,520.75 L138.70,521.29 L141.78,521.86 L144.86,522.45 L147.94,523.07 L151.02,523.71 L154.10,524.38 L157.18,525.06 L160.26,525.75 L163.34,526.47 L166.42,527.20 L169.50,527.94 L172.58,528.69 L175.66,529.46 L178.74,530.23 L181.82,531.02 L184.90,531.81 L187.98,532.61 L191.06,533.41 L194.14,534.22 L197.22,535.04 L200.30,535.86 L203.38,536.68 L206.46,537.51 L209.54,538.34 L212.62,539.17 L215.69,540.00 L218.77,540.84 L221.85,541.68 L224.93,542.51 L228.01,543.35 L231.09,544.19 L234.17,545.03 L237.25,545.87 L240.33,546.71 L243.41,547.55 L246.49,548.39 L249.57,549.23 L252.65,550.08 L255.73,550.92 L258.81,551.77 L261.89,552.61 L264.97,553.46 L268.05,554.31 L271.13,555.16 L274.21,556.02 L277.29,556.87 L280.37,557.73 L283.45,558.60 L286.53,559.47 L289.61,560.34 L292.69,561.21 L295.77,562.10 L298.85,562.98 L301.93,563.88 L305.01,564.78 L308.09,565.68 L311.17,566.60 L314.25,567.52 L317.33,568.45 L320.41,569.38 L323.49,570.33 L326.57,571.29 L329.65,572.25 L332.73,573.23 L335.81,574.22 L338.89,575.22 L341.97,576.23 L345.05,577.25 L348.13,578.29 L351.21,579.33 L354.29,580.40 L357.37,581.47 L360.45,582.56 L363.53,583.66 L366.61,584.78 L369.69,585.91 L372.77,587.06 L375.85,588.22 L378.93,589.39 L382.01,590.59 L385.09,591.79 L388.17,593.02 L391.25,594.26 L394.33,595.51 L397.41,596.78 L400.48,598.06 L403.56,599.36 L406.64,600.68 L409.72,602.01 L412.80,603.35 L415.88,604.71 L418.96,606.09 L422.04,607.47 L425.12,608.87 L428.20,610.28 L431.28,611.71 L434.36,613.14 L437.44,614.59 L440.52,616.05 L443.60,617.51 L446.68,618.99 L449.76,620.47 L452.84,621.96 L455.92,623.45 L459.00,624.95 L462.08,626.45 L465.16,627.95 L468.24,629.46 L471.32,630.96 L474.40,632.46 L477.48,633.95 L480.56,635.45 L483.64,636.93 L486.72,638.40 L489.80,639.87" fill="none" stroke="#111" stroke-width="1.5"/>
<text class="lt" x="189.30" y="262.20" font-size="10" fill="#111111" textLength="57.2" lengthAdjust="spacingAndGlyphs">80 4TS 7514</text>
<text class="lt" x="189.30" y="414.70" font-size="10" fill="#111111" textLength="57.2" lengthAdjust="spacingAndGlyphs">80 4TS 5009</text>
<text class="lt" x="189.30" y="529.30" font-size="10" fill="#111111" textLength="57.2" lengthAdjust="spacingAndGlyphs">80 4TS 3005</text>
<line x1="123.30" y1="714.30" x2="123.30" y2="827.80" stroke="#c4c4c4" stroke-width="1.0"/>
<line x1="139.24" y1="714.30" x2="139.24" y2="827.80" stroke="#c4c4c4" stroke-width="1.0"/>
<line x1="155.18" y1="714.30" x2="155.18" y2="827.80" stroke="#c4c4c4" stroke-width="1.0"/>
<line x1="171.12" y1="714.30" x2="171.12" y2="827.80" stroke="#c4c4c4" stroke-width="1.0"/>
<line x1="187.06" y1="714.30" x2="187.06" y2="827.80" stroke="#c4c4c4" stroke-width="1.0"/>
<line x1="203.00" y1="714.30" x2="203.00" y2="827.80" stroke="#c4c4c4" stroke-width="1.0"/>
<line x1="218.94" y1="714.30" x2="218.94" y2="827.80" stroke="#c4c4c4" stroke-width="1.0"/>
<line x1="234.88" y1="714.30" x2="234.88" y2="827.80" stroke="#c4c4c4" stroke-width="1.0"/>
<line x1="250.82" y1="714.30" x2="250.82" y2="827.80" stroke="#c4c4c4" stroke-width="1.0"/>
<line x1="266.76" y1="714.30" x2="266.76" y2="827.80" stroke="#c4c4c4" stroke-width="1.0"/>
<line x1="282.70" y1="714.30" x2="282.70" y2="827.80" stroke="#c4c4c4" stroke-width="1.0"/>
<line x1="298.64" y1="714.30" x2="298.64" y2="827.80" stroke="#c4c4c4" stroke-width="1.0"/>
<line x1="314.58" y1="714.30" x2="314.58" y2="827.80" stroke="#c4c4c4" stroke-width="1.0"/>
<line x1="330.52" y1="714.30" x2="330.52" y2="827.80" stroke="#c4c4c4" stroke-width="1.0"/>
<line x1="346.46" y1="714.30" x2="346.46" y2="827.80" stroke="#c4c4c4" stroke-width="1.0"/>
<line x1="362.40" y1="714.30" x2="362.40" y2="827.80" stroke="#c4c4c4" stroke-width="1.0"/>
<line x1="378.34" y1="714.30" x2="378.34" y2="827.80" stroke="#c4c4c4" stroke-width="1.0"/>
<line x1="394.28" y1="714.30" x2="394.28" y2="827.80" stroke="#c4c4c4" stroke-width="1.0"/>
<line x1="410.22" y1="714.30" x2="410.22" y2="827.80" stroke="#c4c4c4" stroke-width="1.0"/>
<line x1="426.16" y1="714.30" x2="426.16" y2="827.80" stroke="#c4c4c4" stroke-width="1.0"/>
<line x1="442.10" y1="714.30" x2="442.10" y2="827.80" stroke="#c4c4c4" stroke-width="1.0"/>
<line x1="458.04" y1="714.30" x2="458.04" y2="827.80" stroke="#c4c4c4" stroke-width="1.0"/>
<line x1="473.98" y1="714.30" x2="473.98" y2="827.80" stroke="#c4c4c4" stroke-width="1.0"/>
<line x1="489.92" y1="714.30" x2="489.92" y2="827.80" stroke="#c4c4c4" stroke-width="1.0"/>
<line x1="505.86" y1="714.30" x2="505.86" y2="827.80" stroke="#c4c4c4" stroke-width="1.0"/>
<line x1="521.80" y1="714.30" x2="521.80" y2="827.80" stroke="#c4c4c4" stroke-width="1.0"/>
<line x1="537.74" y1="714.30" x2="537.74" y2="827.80" stroke="#c4c4c4" stroke-width="1.0"/>
<line x1="553.68" y1="714.30" x2="553.68" y2="827.80" stroke="#c4c4c4" stroke-width="1.0"/>
<line x1="569.62" y1="714.30" x2="569.62" y2="827.80" stroke="#c4c4c4" stroke-width="1.0"/>
<line x1="585.56" y1="714.30" x2="585.56" y2="827.80" stroke="#c4c4c4" stroke-width="1.0"/>
<line x1="601.50" y1="714.30" x2="601.50" y2="827.80" stroke="#c4c4c4" stroke-width="1.0"/>
<line x1="123.30" y1="827.80" x2="601.50" y2="827.80" stroke="#c4c4c4" stroke-width="1.0"/>
<line x1="123.30" y1="813.61" x2="601.50" y2="813.61" stroke="#c4c4c4" stroke-width="1.0"/>
<line x1="123.30" y1="799.42" x2="601.50" y2="799.42" stroke="#c4c4c4" stroke-width="1.0"/>
<line x1="123.30" y1="785.24" x2="601.50" y2="785.24" stroke="#c4c4c4" stroke-width="1.0"/>
<line x1="123.30" y1="771.05" x2="601.50" y2="771.05" stroke="#c4c4c4" stroke-width="1.0"/>
<line x1="123.30" y1="756.86" x2="601.50" y2="756.86" stroke="#c4c4c4" stroke-width="1.0"/>
<line x1="123.30" y1="742.67" x2="601.50" y2="742.67" stroke="#c4c4c4" stroke-width="1.0"/>
<line x1="123.30" y1="728.49" x2="601.50" y2="728.49" stroke="#c4c4c4" stroke-width="1.0"/>
<line x1="123.30" y1="714.30" x2="601.50" y2="714.30" stroke="#c4c4c4" stroke-width="1.0"/>
<line x1="123.30" y1="714.30" x2="123.30" y2="836.30" stroke="#a6a6a6" stroke-width="1.3"/>
<line x1="601.50" y1="714.30" x2="601.50" y2="836.30" stroke="#a6a6a6" stroke-width="1.3"/>
<line x1="114.20" y1="827.80" x2="123.30" y2="827.80" stroke="#a6a6a6" stroke-width="1.3"/>
<line x1="601.50" y1="827.80" x2="610.60" y2="827.80" stroke="#a6a6a6" stroke-width="1.3"/>
<text class="t" x="105.80" y="832.80" font-size="12" text-anchor="end" fill="#111111" >0</text>
<text class="t" x="618.50" y="832.80" font-size="12" text-anchor="start" fill="#111111" >0</text>
<line x1="114.20" y1="799.42" x2="123.30" y2="799.42" stroke="#a6a6a6" stroke-width="1.3"/>
<line x1="601.50" y1="799.42" x2="610.60" y2="799.42" stroke="#a6a6a6" stroke-width="1.3"/>
<text class="t" x="105.80" y="804.42" font-size="12" text-anchor="end" fill="#111111" >20</text>
<text class="t" x="618.50" y="804.42" font-size="12" text-anchor="start" fill="#111111" >20</text>
<line x1="114.20" y1="771.05" x2="123.30" y2="771.05" stroke="#a6a6a6" stroke-width="1.3"/>
<line x1="601.50" y1="771.05" x2="610.60" y2="771.05" stroke="#a6a6a6" stroke-width="1.3"/>
<text class="t" x="105.80" y="776.05" font-size="12" text-anchor="end" fill="#111111" >40</text>
<text class="t" x="618.50" y="776.05" font-size="12" text-anchor="start" fill="#111111" >40</text>
<line x1="114.20" y1="742.67" x2="123.30" y2="742.67" stroke="#a6a6a6" stroke-width="1.3"/>
<line x1="601.50" y1="742.67" x2="610.60" y2="742.67" stroke="#a6a6a6" stroke-width="1.3"/>
<text class="t" x="105.80" y="747.67" font-size="12" text-anchor="end" fill="#111111" >60</text>
<text class="t" x="618.50" y="747.67" font-size="12" text-anchor="start" fill="#111111" >60</text>
<line x1="114.20" y1="714.30" x2="123.30" y2="714.30" stroke="#a6a6a6" stroke-width="1.3"/>
<line x1="601.50" y1="714.30" x2="610.60" y2="714.30" stroke="#a6a6a6" stroke-width="1.3"/>
<text class="t" x="105.80" y="719.30" font-size="12" text-anchor="end" fill="#111111" >80</text>
<text class="t" x="618.50" y="719.30" font-size="12" text-anchor="start" fill="#111111" >80</text>
<line x1="123.30" y1="714.30" x2="601.50" y2="714.30" stroke="#a6a6a6" stroke-width="1.3"/>
<line x1="123.30" y1="827.80" x2="601.50" y2="827.80" stroke="#a6a6a6" stroke-width="1.3"/>
<text class="t" x="96.30" y="732.80" font-size="12" text-anchor="middle" fill="#111111" >η(%)</text>
<text class="t" x="624.40" y="732.90" font-size="12" text-anchor="middle" fill="#111111" >η(%)</text>
<line x1="123.30" y1="827.80" x2="123.30" y2="836.30" stroke="#a6a6a6" stroke-width="1.3"/>
<text class="t" x="123.30" y="851.80" font-size="12" text-anchor="middle" fill="#111111" >0</text>
<line x1="203.00" y1="827.80" x2="203.00" y2="836.30" stroke="#a6a6a6" stroke-width="1.3"/>
<text class="t" x="203.00" y="851.80" font-size="12" text-anchor="middle" fill="#111111" >100</text>
<line x1="282.70" y1="827.80" x2="282.70" y2="836.30" stroke="#a6a6a6" stroke-width="1.3"/>
<text class="t" x="282.70" y="851.80" font-size="12" text-anchor="middle" fill="#111111" >200</text>
<line x1="362.40" y1="827.80" x2="362.40" y2="836.30" stroke="#a6a6a6" stroke-width="1.3"/>
<text class="t" x="362.40" y="851.80" font-size="12" text-anchor="middle" fill="#111111" >300</text>
<line x1="442.10" y1="827.80" x2="442.10" y2="836.30" stroke="#a6a6a6" stroke-width="1.3"/>
<text class="t" x="442.10" y="851.80" font-size="12" text-anchor="middle" fill="#111111" >400</text>
<line x1="521.80" y1="827.80" x2="521.80" y2="836.30" stroke="#a6a6a6" stroke-width="1.3"/>
<text class="t" x="521.80" y="851.80" font-size="12" text-anchor="middle" fill="#111111" >500</text>
<line x1="601.50" y1="827.80" x2="601.50" y2="836.30" stroke="#a6a6a6" stroke-width="1.3"/>
<text class="t" x="597.00" y="850.50" font-size="12" text-anchor="start" fill="#111111" textLength="42.4" lengthAdjust="spacingAndGlyphs">Q[l/min]</text>
<path d="M123.30,827.61 L126.38,825.73 L129.47,823.87 L132.55,822.03 L135.64,820.21 L138.72,818.41 L141.80,816.64 L144.89,814.88 L147.97,813.14 L151.06,811.42 L154.14,809.72 L157.22,808.04 L160.31,806.38 L163.39,804.74 L166.48,803.11 L169.56,801.51 L172.64,799.93 L175.73,798.37 L178.81,796.82 L181.90,795.30 L184.98,793.79 L188.06,792.31 L191.15,790.84 L194.23,789.39 L197.32,787.96 L200.40,786.55 L203.48,785.16 L206.57,783.79 L209.65,782.44 L212.74,781.11 L215.82,779.80 L218.91,778.50 L221.99,777.23 L225.07,775.98 L228.16,774.74 L231.24,773.52 L234.33,772.33 L237.41,771.15 L240.49,770.00 L243.58,768.86 L246.66,767.74 L249.75,766.64 L252.83,765.57 L255.91,764.51 L259.00,763.47 L262.08,762.45 L265.17,761.46 L268.25,760.48 L271.33,759.52 L274.42,758.59 L277.50,757.67 L280.59,756.78 L283.67,755.90 L286.75,755.05 L289.84,754.22 L292.92,753.41 L296.01,752.62 L299.09,751.86 L302.17,751.11 L305.26,750.39 L308.34,749.69 L311.43,749.01 L314.51,748.35 L317.59,747.71 L320.68,747.10 L323.76,746.51 L326.85,745.95 L329.93,745.40 L333.01,744.88 L336.10,744.39 L339.18,743.91 L342.27,743.47 L345.35,743.04 L348.43,742.64 L351.52,742.27 L354.60,741.92 L357.69,741.59 L360.77,741.29 L363.85,741.01 L366.94,740.76 L370.02,740.54 L373.11,740.34 L376.19,740.17 L379.27,740.03 L382.36,739.91 L385.44,739.82 L388.53,739.76 L391.61,739.72 L394.69,739.71 L397.78,739.74 L400.86,739.78 L403.95,739.86 L407.03,739.97 L410.12,740.11 L413.20,740.27 L416.28,740.47 L419.37,740.70 L422.45,740.95 L425.54,741.24 L428.62,741.56 L431.70,741.91 L434.79,742.29 L437.87,742.71 L440.96,743.16 L444.04,743.64 L447.12,744.15 L450.21,744.70 L453.29,745.28 L456.38,745.90 L459.46,746.55 L462.54,747.23 L465.63,747.95 L468.71,748.71 L471.80,749.50 L474.88,750.33 L477.96,751.19 L481.05,752.10 L484.13,753.04 L487.22,754.02 L490.30,755.03" fill="none" stroke="#111" stroke-width="1.5"/>
<rect x="383.5" y="747" width="22.2" height="15" fill="#fff"/>
<text class="t" x="386.20" y="758.10" font-size="11" text-anchor="start" fill="#111111" >η%</text>
<line x1="123.30" y1="862.00" x2="601.50" y2="862.00" stroke="#a6a6a6" stroke-width="1.3"/>
<line x1="123.30" y1="862.00" x2="123.30" y2="870.50" stroke="#a6a6a6" stroke-width="1.3"/>
<text class="t" x="123.30" y="885.80" font-size="12" text-anchor="middle" fill="#111111" >0</text>
<line x1="136.58" y1="862.00" x2="136.58" y2="866.50" stroke="#bdbdbd" stroke-width="1.0"/>
<line x1="149.87" y1="862.00" x2="149.87" y2="870.50" stroke="#a6a6a6" stroke-width="1.3"/>
<text class="t" x="149.87" y="885.80" font-size="12" text-anchor="middle" fill="#111111" >2</text>
<line x1="163.15" y1="862.00" x2="163.15" y2="866.50" stroke="#bdbdbd" stroke-width="1.0"/>
<line x1="176.43" y1="862.00" x2="176.43" y2="870.50" stroke="#a6a6a6" stroke-width="1.3"/>
<text class="t" x="176.43" y="885.80" font-size="12" text-anchor="middle" fill="#111111" >4</text>
<line x1="189.72" y1="862.00" x2="189.72" y2="866.50" stroke="#bdbdbd" stroke-width="1.0"/>
<line x1="203.00" y1="862.00" x2="203.00" y2="870.50" stroke="#a6a6a6" stroke-width="1.3"/>
<text class="t" x="203.00" y="885.80" font-size="12" text-anchor="middle" fill="#111111" >6</text>
<line x1="216.28" y1="862.00" x2="216.28" y2="866.50" stroke="#bdbdbd" stroke-width="1.0"/>
<line x1="229.57" y1="862.00" x2="229.57" y2="870.50" stroke="#a6a6a6" stroke-width="1.3"/>
<text class="t" x="229.57" y="885.80" font-size="12" text-anchor="middle" fill="#111111" >8</text>
<line x1="242.85" y1="862.00" x2="242.85" y2="866.50" stroke="#bdbdbd" stroke-width="1.0"/>
<line x1="256.13" y1="862.00" x2="256.13" y2="870.50" stroke="#a6a6a6" stroke-width="1.3"/>
<text class="t" x="256.13" y="885.80" font-size="12" text-anchor="middle" fill="#111111" >10</text>
<line x1="269.42" y1="862.00" x2="269.42" y2="866.50" stroke="#bdbdbd" stroke-width="1.0"/>
<line x1="282.70" y1="862.00" x2="282.70" y2="870.50" stroke="#a6a6a6" stroke-width="1.3"/>
<text class="t" x="282.70" y="885.80" font-size="12" text-anchor="middle" fill="#111111" >12</text>
<line x1="295.98" y1="862.00" x2="295.98" y2="866.50" stroke="#bdbdbd" stroke-width="1.0"/>
<line x1="309.27" y1="862.00" x2="309.27" y2="870.50" stroke="#a6a6a6" stroke-width="1.3"/>
<text class="t" x="309.27" y="885.80" font-size="12" text-anchor="middle" fill="#111111" >14</text>
<line x1="322.55" y1="862.00" x2="322.55" y2="866.50" stroke="#bdbdbd" stroke-width="1.0"/>
<line x1="335.83" y1="862.00" x2="335.83" y2="870.50" stroke="#a6a6a6" stroke-width="1.3"/>
<text class="t" x="335.83" y="885.80" font-size="12" text-anchor="middle" fill="#111111" >16</text>
<line x1="349.12" y1="862.00" x2="349.12" y2="866.50" stroke="#bdbdbd" stroke-width="1.0"/>
<line x1="362.40" y1="862.00" x2="362.40" y2="870.50" stroke="#a6a6a6" stroke-width="1.3"/>
<text class="t" x="362.40" y="885.80" font-size="12" text-anchor="middle" fill="#111111" >18</text>
<line x1="375.68" y1="862.00" x2="375.68" y2="866.50" stroke="#bdbdbd" stroke-width="1.0"/>
<line x1="388.97" y1="862.00" x2="388.97" y2="870.50" stroke="#a6a6a6" stroke-width="1.3"/>
<text class="t" x="388.97" y="885.80" font-size="12" text-anchor="middle" fill="#111111" >20</text>
<line x1="402.25" y1="862.00" x2="402.25" y2="866.50" stroke="#bdbdbd" stroke-width="1.0"/>
<line x1="415.53" y1="862.00" x2="415.53" y2="870.50" stroke="#a6a6a6" stroke-width="1.3"/>
<text class="t" x="415.53" y="885.80" font-size="12" text-anchor="middle" fill="#111111" >22</text>
<line x1="428.82" y1="862.00" x2="428.82" y2="866.50" stroke="#bdbdbd" stroke-width="1.0"/>
<line x1="442.10" y1="862.00" x2="442.10" y2="870.50" stroke="#a6a6a6" stroke-width="1.3"/>
<text class="t" x="442.10" y="885.80" font-size="12" text-anchor="middle" fill="#111111" >24</text>
<line x1="455.38" y1="862.00" x2="455.38" y2="866.50" stroke="#bdbdbd" stroke-width="1.0"/>
<line x1="468.67" y1="862.00" x2="468.67" y2="870.50" stroke="#a6a6a6" stroke-width="1.3"/>
<text class="t" x="468.67" y="885.80" font-size="12" text-anchor="middle" fill="#111111" >26</text>
<line x1="481.95" y1="862.00" x2="481.95" y2="866.50" stroke="#bdbdbd" stroke-width="1.0"/>
<line x1="495.23" y1="862.00" x2="495.23" y2="870.50" stroke="#a6a6a6" stroke-width="1.3"/>
<text class="t" x="495.23" y="885.80" font-size="12" text-anchor="middle" fill="#111111" >28</text>
<line x1="508.52" y1="862.00" x2="508.52" y2="866.50" stroke="#bdbdbd" stroke-width="1.0"/>
<line x1="521.80" y1="862.00" x2="521.80" y2="870.50" stroke="#a6a6a6" stroke-width="1.3"/>
<text class="t" x="521.80" y="885.80" font-size="12" text-anchor="middle" fill="#111111" >30</text>
<line x1="535.08" y1="862.00" x2="535.08" y2="866.50" stroke="#bdbdbd" stroke-width="1.0"/>
<line x1="548.37" y1="862.00" x2="548.37" y2="870.50" stroke="#a6a6a6" stroke-width="1.3"/>
<text class="t" x="548.37" y="885.80" font-size="12" text-anchor="middle" fill="#111111" >32</text>
<line x1="561.65" y1="862.00" x2="561.65" y2="866.50" stroke="#bdbdbd" stroke-width="1.0"/>
<line x1="574.93" y1="862.00" x2="574.93" y2="870.50" stroke="#a6a6a6" stroke-width="1.3"/>
<text class="t" x="574.93" y="885.80" font-size="12" text-anchor="middle" fill="#111111" >34</text>
<line x1="588.22" y1="862.00" x2="588.22" y2="866.50" stroke="#bdbdbd" stroke-width="1.0"/>
<line x1="601.50" y1="862.00" x2="601.50" y2="870.50" stroke="#a6a6a6" stroke-width="1.3"/>
<text class="t" x="596.00" y="884.80" font-size="12" text-anchor="start" fill="#111111" textLength="39.6" lengthAdjust="spacingAndGlyphs">Q[m³/h]</text>
</svg>
</body></html>
